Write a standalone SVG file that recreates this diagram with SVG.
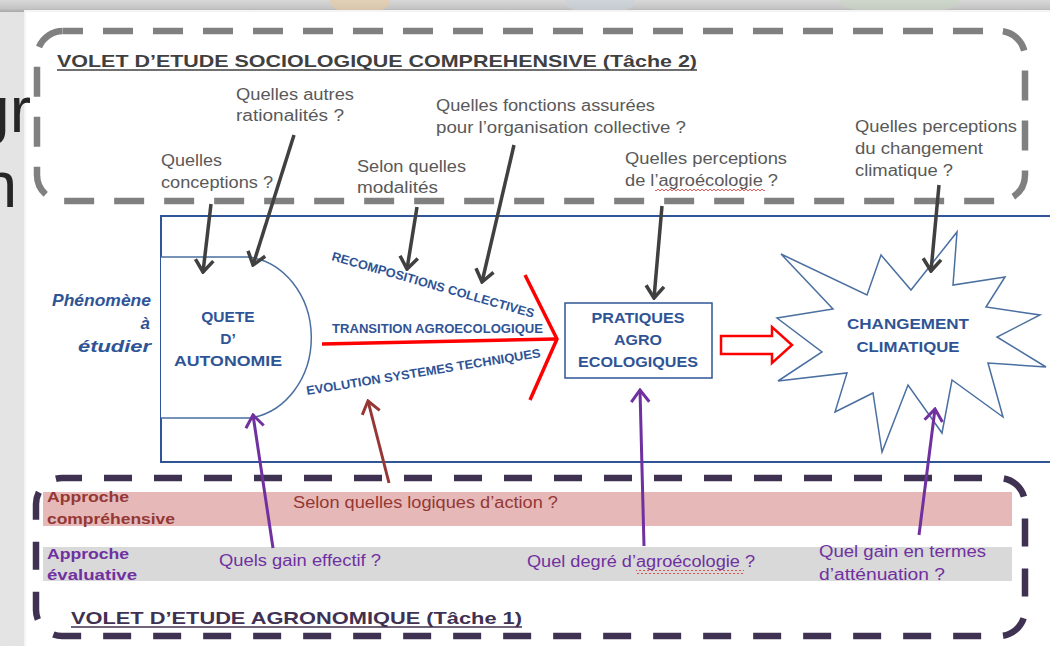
<svg xmlns="http://www.w3.org/2000/svg" width="1050" height="646" viewBox="0 0 1050 646">
<defs>
<style>
.q{font-family:"Liberation Sans",Arial,sans-serif;font-size:16px;fill:#595959}
.bl{font-family:"Liberation Sans",Arial,sans-serif;font-weight:bold;fill:#2F5496}
.ttl{font-family:"Liberation Sans",Arial,sans-serif;font-weight:bold;font-size:17px}
.lab{font-family:"Liberation Sans",Arial,sans-serif;font-weight:bold;font-size:15.5px}
.pq{font-family:"Liberation Sans",Arial,sans-serif;font-size:16px;fill:#7030A0}
.dk{fill:none;stroke:#404040;stroke-width:3.5}
.pu{fill:none;stroke:#7030A0;stroke-width:3}
.br{fill:none;stroke:#953735;stroke-width:3}
.red{fill:none;stroke:#FF0000;stroke-width:3.5}
</style>
<linearGradient id="lsh" x1="0" y1="0" x2="1" y2="0">
<stop offset="0" stop-color="#e4e4e4"/><stop offset="0.6" stop-color="#d6d6d6"/><stop offset="0.85" stop-color="#a9a9a9"/><stop offset="1" stop-color="#c8c8c8"/>
</linearGradient>
<linearGradient id="tsh" x1="0" y1="0" x2="0" y2="1">
<stop offset="0" stop-color="#d9d9d9"/><stop offset="0.7" stop-color="#c4c4c4"/><stop offset="1" stop-color="#a8a8a8"/>
</linearGradient>
<pattern id="wave" width="4" height="4" patternUnits="userSpaceOnUse"><path d="M0,3 L2,1 L4,3" fill="none" stroke="#e03030" stroke-width="0.8"/></pattern>
<marker id="mdk" viewBox="-14 -11 16 22" refX="0" refY="0" markerWidth="16" markerHeight="22" markerUnits="userSpaceOnUse" orient="auto"><path d="M-12,-9 L0,0 L-12,9" fill="none" stroke="#404040" stroke-width="3.5"/></marker>
<marker id="mpu" viewBox="-14 -11 16 22" refX="0" refY="0" markerWidth="16" markerHeight="22" markerUnits="userSpaceOnUse" orient="auto"><path d="M-12,-9 L0,0 L-12,9" fill="none" stroke="#7030A0" stroke-width="3"/></marker>
<marker id="mbr" viewBox="-14 -11 16 22" refX="0" refY="0" markerWidth="16" markerHeight="22" markerUnits="userSpaceOnUse" orient="auto"><path d="M-12,-9 L0,0 L-12,9" fill="none" stroke="#953735" stroke-width="3"/></marker>
</defs>

<!-- background slide -->
<g id="background">
<rect x="0" y="0" width="1050" height="646" fill="url(#lsh)"/>
<rect x="0" y="0" width="1050" height="12" fill="url(#tsh)"/>
<ellipse cx="360" cy="2" rx="30" ry="12" fill="#e8c9a0" opacity="0.6"/>
<ellipse cx="600" cy="2" rx="35" ry="12" fill="#c9d2dc" opacity="0.6"/>
<ellipse cx="900" cy="2" rx="60" ry="12" fill="#c8d6c4" opacity="0.6"/>
<rect x="24" y="10" width="1030" height="640" fill="#f4f4f4"/>
<rect x="26" y="12" width="1028" height="640" fill="#ffffff"/>
<text x="31" y="132" text-anchor="end" font-family="Liberation Sans,Arial,sans-serif" font-size="64" fill="#262626">gr</text>
<text x="17" y="207" text-anchor="end" font-family="Liberation Sans,Arial,sans-serif" font-size="64" fill="#262626">n</text>
</g>

<!-- dashed study boxes -->
<g id="volet-socio">
<rect x="37" y="31" width="988" height="170" rx="26" fill="none" stroke="#808080" stroke-width="6.5" stroke-dasharray="30 20" stroke-dashoffset="10"/>
<text class="ttl" x="57" y="67" fill="#404040" textLength="640" lengthAdjust="spacingAndGlyphs">VOLET D’ETUDE SOCIOLOGIQUE COMPREHENSIVE (Tâche 2)</text>
<line x1="57" y1="70" x2="697" y2="70" stroke="#404040" stroke-width="1.5"/>
</g>
<g id="volet-agro">
<rect x="36" y="478" width="989" height="158" rx="26" fill="none" stroke="#3F3151" stroke-width="6.5" stroke-dasharray="28 22" stroke-dashoffset="8"/>
<text class="ttl" x="71" y="624" fill="#3F3151" textLength="451" lengthAdjust="spacingAndGlyphs">VOLET D’ETUDE AGRONOMIQUE (Tâche 1)</text>
<line x1="71" y1="627" x2="522" y2="627" stroke="#3F3151" stroke-width="1.5"/>
</g>

<!-- approach bands -->
<g id="band-comprehensive">
<rect x="43" y="492" width="969" height="34" fill="#E6B9B8"/>
<text class="lab" x="47" y="502" fill="#953735" textLength="82" lengthAdjust="spacingAndGlyphs">Approche</text>
<text class="lab" x="47" y="524" fill="#953735" textLength="128" lengthAdjust="spacingAndGlyphs">compréhensive</text>
<text x="293" y="508" font-family="Liberation Sans,Arial,sans-serif" font-size="16" fill="#953735" textLength="265" lengthAdjust="spacingAndGlyphs">Selon quelles logiques d’action ?</text>
</g>
<g id="band-evaluative">
<rect x="43" y="547" width="969" height="34" fill="#D9D9D9"/>
<text class="lab" x="47" y="559" fill="#7030A0" textLength="82" lengthAdjust="spacingAndGlyphs">Approche</text>
<text class="lab" x="47" y="580" fill="#7030A0" textLength="90" lengthAdjust="spacingAndGlyphs">évaluative</text>
<text class="pq" x="219" y="566" textLength="162" lengthAdjust="spacingAndGlyphs">Quels gain effectif ?</text>
<text class="pq" x="527" y="567" textLength="228" lengthAdjust="spacingAndGlyphs">Quel degré d’agroécologie ?</text>
<rect x="636" y="570" width="108" height="4" fill="url(#wave)"/>
<text class="pq" x="819" y="557" textLength="167" lengthAdjust="spacingAndGlyphs">Quel gain en termes</text>
<text class="pq" x="819" y="580" textLength="126" lengthAdjust="spacingAndGlyphs">d’atténuation ?</text>
</g>

<!-- phenomenon frame -->
<g id="phenomene">
<rect x="161" y="216" width="900" height="246" fill="none" stroke="#2F5597" stroke-width="2"/>
<text class="bl" font-style="italic" font-size="17" text-anchor="end" x="151" y="306" textLength="99" lengthAdjust="spacingAndGlyphs">Phénomène</text>
<text class="bl" font-style="italic" font-size="17" text-anchor="end" x="150" y="329">à</text>
<text class="bl" font-style="italic" font-size="17" text-anchor="end" x="151" y="352" textLength="73" lengthAdjust="spacingAndGlyphs">étudier</text>
</g>

<g id="quete-autonomie">
<path d="M161,257 L248,257 A70,81 0 0 1 250,418 L161,418" fill="#ffffff" stroke="#4A6FA0" stroke-width="1.5"/>
<text class="bl" font-size="15.5" text-anchor="middle" x="228" y="322">QUETE</text>
<text class="bl" font-size="15.5" text-anchor="middle" x="228" y="344">D’</text>
<text class="bl" font-size="15.5" text-anchor="middle" x="228" y="366" textLength="108" lengthAdjust="spacingAndGlyphs">AUTONOMIE</text>
</g>

<g id="pratiques">
<rect x="565" y="303" width="147" height="75" fill="#ffffff" stroke="#2F5597" stroke-width="1.5"/>
<text class="bl" font-size="15.5" text-anchor="middle" x="638" y="323" textLength="93" lengthAdjust="spacingAndGlyphs">PRATIQUES</text>
<text class="bl" font-size="15.5" text-anchor="middle" x="638" y="345" textLength="48" lengthAdjust="spacingAndGlyphs">AGRO</text>
<text class="bl" font-size="15.5" text-anchor="middle" x="638" y="367" textLength="120" lengthAdjust="spacingAndGlyphs">ECOLOGIQUES</text>
</g>

<g id="changement">
<polygon points="781,254 867,295 881,255 911,290 957,232 953,285 1005,277 986,307 1040,315 997,337 1046,367 988,363 1003,417 952,380 942,433 908,385 882,452 873,393 835,412 847,373 778,381 822,352 777,318 833,309" fill="#ffffff" stroke="#4A6FA0" stroke-width="1.5" stroke-linejoin="miter"/>
<text class="bl" font-size="15.5" text-anchor="middle" x="908" y="329" textLength="122" lengthAdjust="spacingAndGlyphs">CHANGEMENT</text>
<text class="bl" font-size="15.5" text-anchor="middle" x="908" y="352" textLength="103" lengthAdjust="spacingAndGlyphs">CLIMATIQUE</text>
</g>

<!-- questions -->
<g id="questions">
<text class="q" x="236" y="100" textLength="118" lengthAdjust="spacingAndGlyphs">Quelles autres</text>
<text class="q" x="236" y="121" textLength="108" lengthAdjust="spacingAndGlyphs">rationalités ?</text>
<text class="q" x="436" y="111" textLength="219" lengthAdjust="spacingAndGlyphs">Quelles fonctions assurées</text>
<text class="q" x="436" y="133" textLength="250" lengthAdjust="spacingAndGlyphs">pour l’organisation collective ?</text>
<text class="q" x="161" y="166" textLength="61" lengthAdjust="spacingAndGlyphs">Quelles</text>
<text class="q" x="161" y="188" textLength="112" lengthAdjust="spacingAndGlyphs">conceptions ?</text>
<text class="q" x="357" y="172" textLength="109" lengthAdjust="spacingAndGlyphs">Selon quelles</text>
<text class="q" x="357" y="193" textLength="81" lengthAdjust="spacingAndGlyphs">modalités</text>
<text class="q" x="625" y="164" textLength="162" lengthAdjust="spacingAndGlyphs">Quelles perceptions</text>
<text class="q" x="625" y="186" textLength="153" lengthAdjust="spacingAndGlyphs">de l’agroécologie ?</text>
<rect x="655" y="189" width="110" height="4" fill="url(#wave)"/>
<text class="q" x="855" y="132" textLength="162" lengthAdjust="spacingAndGlyphs">Quelles perceptions</text>
<text class="q" x="855" y="154" textLength="128" lengthAdjust="spacingAndGlyphs">du changement</text>
<text class="q" x="855" y="176" textLength="98" lengthAdjust="spacingAndGlyphs">climatique ?</text>
</g>

<!-- connectors -->
<g id="connectors">
<line class="red" x1="322" y1="344" x2="555" y2="339"/>
<polyline class="red" points="525,275 557,339 530,400" stroke-linejoin="miter"/>
<polygon points="721,336 772,336 772,327 792,345 772,363 772,354 721,354" fill="#ffffff" stroke="#FF0000" stroke-width="2.5"/>
<path class="dk" d="M211,204 L203,272" marker-end="url(#mdk)"/>
<path class="dk" d="M294,135 L253,265" marker-end="url(#mdk)"/>
<path class="dk" d="M417,207 L407,269" marker-end="url(#mdk)"/>
<path class="dk" d="M514,145 L482,282" marker-end="url(#mdk)"/>
<path class="dk" d="M662,206 L654,298" marker-end="url(#mdk)"/>
<path class="dk" d="M939,185 L931,271" marker-end="url(#mdk)"/>
<path class="pu" d="M273,548 L253,415" marker-end="url(#mpu)"/>
<path class="br" d="M389,483 L368,401" marker-end="url(#mbr)"/>
<path class="pu" d="M644,546 L640,390" marker-end="url(#mpu)"/>
<path class="pu" d="M919,535 L935,409" marker-end="url(#mpu)"/>
</g>

<!-- flow labels -->
<g id="flow-labels">
<text class="bl" font-size="12.5" transform="translate(331,260) rotate(16)" textLength="210" lengthAdjust="spacingAndGlyphs">RECOMPOSITIONS COLLECTIVES</text>
<text class="bl" font-size="12.5" x="332" y="333" textLength="211" lengthAdjust="spacingAndGlyphs">TRANSITION AGROECOLOGIQUE</text>
<text class="bl" font-size="12.5" transform="translate(307,395) rotate(-9.2)" textLength="237" lengthAdjust="spacingAndGlyphs">EVOLUTION SYSTEMES TECHNIQUES</text>
</g>
</svg>
